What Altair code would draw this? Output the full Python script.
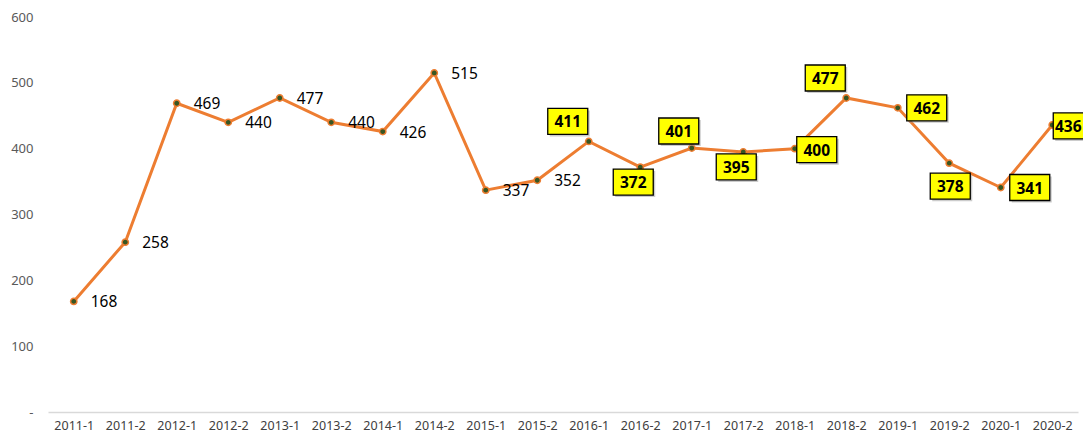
import altair as alt
import pandas as pd

periods = ["2011-1", "2011-2", "2012-1", "2012-2", "2013-1", "2013-2", "2014-1", "2014-2",
           "2015-1", "2015-2", "2016-1", "2016-2", "2017-1", "2017-2", "2018-1", "2018-2",
           "2019-1", "2019-2", "2020-1", "2020-2"]
values = [168, 258, 469, 440, 477, 440, 426, 515, 337, 352,
          411, 372, 401, 395, 400, 477, 462, 378, 341, 436]
label_style = ["plain"] * 10 + ["boxed"] * 10
label_place = ["right"] * 10 + ["upleft", "below", "above", "below", "right",
                                "upleft", "farright", "under", "farright", "edge"]
y_ticks = [0, 100, 200, 300, 400, 500, 600]

df = pd.DataFrame({"period": periods, "value": values,
                   "style": label_style, "place": label_place})

FONT = "Noto Sans"
ORANGE = "#ED7D31"
BOX = "M-1,-0.65L1,-0.65L1,0.65L-1,0.65Z"
# placement name -> (box x offset, box y offset, text x offset)
OFFSETS = {
    "upleft": (-21, -20, -21),
    "above": (-13, -17, -13),
    "below": (-7, 15, -7),
    "under": (1, 23, 1),
    "right": (22, 1, 22),
    "farright": (29, 0, 29),
    "edge": (21, 1, 16),
}

x = alt.X("period:N", sort=periods, scale=alt.Scale(padding=0.5),
          axis=alt.Axis(title=None, labelAngle=0, ticks=False, grid=False,
                        domainColor="#d9d9d9", domainWidth=1.5,
                        labelColor="#404040", labelFont=FONT, labelFontSize=12.5,
                        labelPadding=7))
y = alt.Y("value:Q", scale=alt.Scale(domain=[0, 600], nice=False, zero=True),
          axis=alt.Axis(title=None, values=y_ticks, domain=False, ticks=False, grid=False,
                        labelColor="#595959", labelFont=FONT, labelFontSize=13,
                        labelPadding=15,
                        labelExpr="datum.value == 0 ? '-' : datum.label"))

base = alt.Chart(df).encode(x=x, y=y)

line = base.mark_line(color=ORANGE, strokeWidth=3)
pts = base.mark_point(filled=True, fill="#375623", stroke=ORANGE, strokeWidth=1.5,
                      size=40, opacity=1)

plain = base.transform_filter(alt.datum.style == "plain").mark_text(
    align="left", baseline="middle", dx=17, dy=1, font=FONT, fontSize=15.5, color="#000000"
).encode(text="value:Q")

layers = [line, pts, plain]
for place, (ox, oy, tx) in OFFSETS.items():
    sub = base.transform_filter(
        (alt.datum.style == "boxed") & (alt.datum.place == place))
    layers.append(sub.mark_point(shape=BOX, size=1600, filled=True, fill="#9a9a9a",
                                 opacity=0.5, xOffset=ox + 2, yOffset=oy + 2))
    layers.append(sub.mark_point(shape=BOX, size=1600, filled=True, fill="#FFFF00",
                                 stroke="#000000", strokeWidth=1.3, opacity=1,
                                 xOffset=ox, yOffset=oy))
    layers.append(sub.mark_text(align="center", baseline="middle", font=FONT,
                                fontSize=15.5, fontWeight="bold", color="#000000",
                                xOffset=tx, yOffset=oy + 1).encode(text="value:Q"))

chart = alt.layer(*layers).properties(
    width=1030, height=395,
    autosize=alt.AutoSizeParams(type="none"),
    padding={"left": 40, "top": 9, "right": 5, "bottom": 22},
).configure_view(stroke=None)

chart.save("out.html", embed_options={"renderer": "svg", "actions": False})
